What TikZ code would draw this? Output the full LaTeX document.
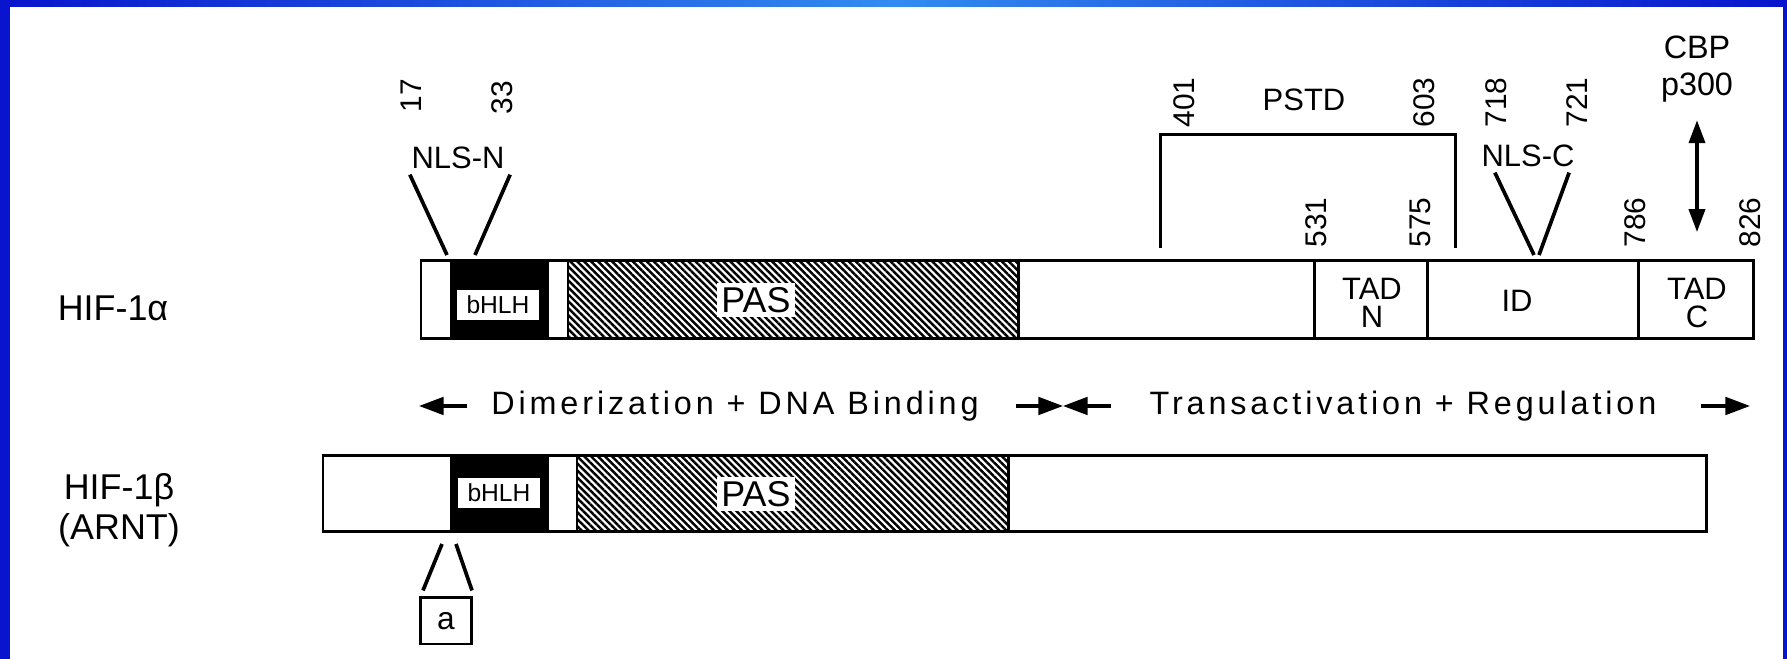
\documentclass[tikz,border=0pt]{standalone}
\usepackage{fontspec}
\setmainfont{Liberation Sans}
\usetikzlibrary{arrows.meta,patterns.meta}
\definecolor{framedark}{RGB}{8,20,205}
\definecolor{framelight}{RGB}{50,140,240}

\begin{document}
\begin{tikzpicture}[x=0.01cm,y=-0.01cm,
    bar/.style={line width=0.85pt},
    nls/.style={line width=1.05pt},
    hatch/.style={pattern={Lines[angle=-45,distance=1.4pt,line width=0.7pt]}},
    lbl/.style={inner sep=0pt,font=\fontsize{8.8}{8}\selectfont},
    num/.style={rotate=90,anchor=west,inner sep=0pt,font=\fontsize{8.5}{8}\selectfont},
    protlabel/.style={inner sep=0pt,align=center,font=\fontsize{10.2}{11.5}\selectfont},
    bhlh/.style={fill=white,inner sep=0pt,minimum width=0.82cm,minimum height=0.3cm,
      font=\fontsize{7}{7}\selectfont},
    pasbox/.style={fill=white,inner sep=1.2pt,font=\fontsize{10.2}{10}\selectfont},
    domtext/.style={inner sep=0pt,font=\fontsize{9.2}{10}\selectfont\addfontfeatures{LetterSpace=12}},
    domarrow/.style={line width=0.9pt,-{Triangle[length=7pt,width=5pt]}}]
    \useasboundingbox (0,0) rectangle (1787,659);

    \fill[framedark] (0,0) rectangle (10,659);
    \fill[framedark] (1783,0) rectangle (1787,659);
    \shade[left color=framedark,right color=framedark,middle color=framelight]
      (0,0) rectangle (1787,7);

    % HIF-1 alpha
    \fill (451,261) rectangle (548,339);
    \fill[hatch] (568,261) rectangle (1018,339);
    \draw[bar] (421,261) rectangle (1753,339);
    \foreach \x in {451,548,568,1018,1314,1427,1638}
      \draw[bar] (\x,261) -- (\x,339);
    \node[bhlh] (bhlha) at (498,305) {bHLH};
    \node[pasbox] (pasa) at (756,300) {PAS};
    \node[lbl,align=center] (tadn) at (1372,303) {TAD\\N};
    \node[lbl] (id) at (1517,301) {ID};
    \node[lbl,align=center] (tadc) at (1697,303) {TAD\\C};
    \node[protlabel] (hifa) at (113,308) {HIF-1α};

    \node[lbl] (nlsn) at (458,158) {NLS-N};
    \coordinate (nlsn-l) at (447,255);
    \coordinate (nlsn-r) at (475,255);
    \draw[nls] ([shift={(-1,5)}]nlsn.south west) -- (nlsn-l);
    \draw[nls] ([shift={(5,5)}]nlsn.south east) -- (nlsn-r);
    \node[num] (n17) at (411,113) {17};
    \node[num] (n33) at (502,115) {33};

    \node[lbl] (pstd) at (1304,100) {PSTD};
    \coordinate (pstd-l) at (1160,248);
    \coordinate (pstd-r) at (1455,248);
    \draw[bar] (pstd-l) -- ++(0,-113) -| (pstd-r);
    \node[num] (n401) at (1184,128) {401};
    \node[num] (n603) at (1424,128) {603};

    \node[lbl] (nlsc) at (1528,156) {NLS-C};
    \coordinate (nlsc-l) at (1534,255);
    \coordinate (nlsc-r) at (1539,255);
    \draw[nls] ([shift={(14,5)}]nlsc.south west) -- (nlsc-l);
    \draw[nls] ([shift={(-6,5)}]nlsc.south east) -- (nlsc-r);
    \node[num] (n718) at (1496,128) {718};
    \node[num] (n721) at (1577,128) {721};

    \foreach \x/\t in {1316/531,1420/575,1635/786,1750/826}
      \node[num] (n\t) at (\x,248) {\t};

    \node[lbl,font=\fontsize{9.2}{10}\selectfont] (cbp) at (1697,47) {CBP};
    \node[lbl,font=\fontsize{9.2}{10}\selectfont] (p300) at (1697,88) {p300};
    \coordinate (cbp-bot) at (1697,232);
    \draw[line width=0.9pt,{Triangle[length=6.5pt,width=4.6pt]}-{Triangle[length=6.5pt,width=4.6pt]}]
      ([shift={(0,17)}]p300.south) -- (cbp-bot);

    % domains
    \node[domtext] (dimer) at (735,406) {Dimerization + DNA Binding};
    \node[domtext] (trans) at (1403,406) {Transactivation + Regulation};
    \coordinate (dim-l) at (467,406);
    \coordinate (dim-tip) at (419,406);
    \coordinate (mid-l) at (1016,406);
    \coordinate (mid-r) at (1111,406);
    \coordinate (mid) at (1063,406);
    \coordinate (tra-r) at (1701,406);
    \coordinate (tra-tip) at (1750,406);
    \draw[domarrow] (dim-l) -- (dim-tip);
    \draw[domarrow] (mid-l) -- (mid);
    \draw[domarrow] (mid-r) -- (mid);
    \draw[domarrow] (tra-r) -- (tra-tip);

    % HIF-1 beta
    \fill (451,456) rectangle (548,532);
    \fill[hatch] (577,456) rectangle (1008,532);
    \draw[bar] (323,456) rectangle (1706,532);
    \foreach \x in {451,548,577,1008}
      \draw[bar] (\x,456) -- (\x,532);
    \node[bhlh] (bhlhb) at (499,493) {bHLH};
    \node[pasbox] (pasb) at (756,494) {PAS};
    \node[protlabel] (hifb) at (119,510) {HIF-1β\\(ARNT)};

    \node[draw,bar,minimum width=0.51cm,minimum height=0.46cm,inner sep=0pt,
      font=\fontsize{9}{9}\selectfont] (abox) at (446,621) {a};
    \coordinate (ab-l) at (442,544);
    \coordinate (ab-r) at (456,544);
    \draw[nls] (ab-l) -- ([shift={(4,-6)}]abox.north west);
    \draw[nls] (ab-r) -- ([shift={(-1,-6)}]abox.north east);

\end{tikzpicture}
\end{document}
